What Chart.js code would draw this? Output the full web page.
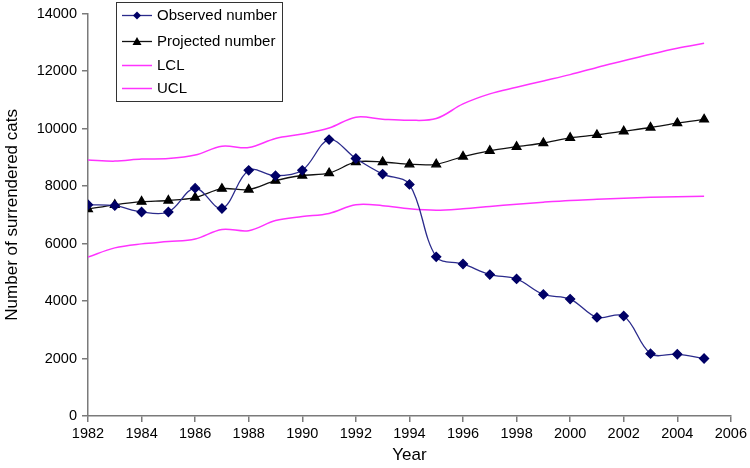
<!DOCTYPE html>
<html>
<head>
<meta charset="utf-8">
<script src="https://cdn.jsdelivr.net/npm/chart.js@4/dist/chart.umd.min.js"></script>
<style>
  html, body { margin: 0; padding: 0; background: #fff; }
  #wrap { width: 750px; height: 468px; }
</style>
</head>
<body>
<div id="wrap"><canvas id="myChart" width="750" height="468"></canvas></div>
<script>
var years = [1982, 1983, 1984, 1985, 1986, 1987, 1988, 1989, 1990, 1991, 1992, 1993,
             1994, 1995, 1996, 1997, 1998, 1999, 2000, 2001, 2002, 2003, 2004, 2005];
var observed = [7350, 7320, 7100, 7100, 7930, 7220, 8550, 8360, 8550, 9620, 8960, 8420,
                8060, 5540, 5290, 4920, 4770, 4230, 4070, 3430, 3480, 2170, 2150, 2000];
var projected = [7200, 7350, 7460, 7500, 7600, 7910, 7880, 8190, 8370, 8450, 8840, 8840,
                 8760, 8760, 9030, 9230, 9370, 9500, 9680, 9780, 9910, 10040, 10190, 10320];
var lcl = [5530, 5850, 5990, 6070, 6160, 6490, 6450, 6800, 6940, 7050, 7350, 7320,
           7210, 7160, 7210, 7290, 7370, 7440, 7500, 7540, 7580, 7610, 7630, 7650];
var ucl = [8910, 8870, 8940, 8960, 9080, 9390, 9340, 9660, 9810, 10020, 10400, 10330,
           10290, 10350, 10860, 11210, 11440, 11660, 11880, 12130, 12360, 12590, 12800, 12970];
var seriesNames = ["Observed number", "Projected number", "LCL", "UCL"];
var xTicks = [1982, 1984, 1986, 1988, 1990, 1992, 1994, 1996, 1998, 2000, 2002, 2004, 2006];
var yTicks = [0, 2000, 4000, 6000, 8000, 10000, 12000, 14000];

function pts(values) {
    return values.map(function (v, i) { return { x: years[i], y: v }; });
}

var FONT = "'Liberation Sans', Arial, sans-serif";
var AXIS = '#7a7a7a';

// legend box drawn inside the plot, like the original
var boxLegend = {
    id: 'boxLegend',
    afterDraw: function (chart) {
        var c = chart.ctx;
        var x0 = 116, y0 = 2, w = 166, h = 99;
        c.save();
        c.fillStyle = '#fff';
        c.fillRect(x0, y0, w, h);
        c.strokeStyle = '#333';
        c.lineWidth = 1;
        c.strokeRect(x0 + 0.5, y0 + 0.5, w, h);
        c.font = '15px ' + FONT;
        c.textBaseline = 'middle';
        c.fillStyle = '#000';
        var rows = [15.5, 41.5, 65.5, 88.5];
        chart.data.datasets.forEach(function (ds, i) {
            var y = rows[i];
            c.strokeStyle = ds.borderColor;
            c.lineWidth = ds.borderWidth;
            c.beginPath();
            c.moveTo(122, y);
            c.lineTo(152, y);
            c.stroke();
            if (ds.pointStyle === 'rectRot') {
                c.fillStyle = ds.pointBackgroundColor;
                c.beginPath();
                c.moveTo(137, y - 4); c.lineTo(141, y); c.lineTo(137, y + 4); c.lineTo(133, y);
                c.closePath(); c.fill();
            } else if (ds.pointStyle === 'triangle') {
                c.fillStyle = ds.pointBackgroundColor;
                c.beginPath();
                c.moveTo(137, y - 4.5); c.lineTo(141.5, y + 3.5); c.lineTo(132.5, y + 3.5);
                c.closePath(); c.fill();
            }
            c.fillStyle = '#000';
            c.fillText(ds.label, 157, y);
        });
        c.restore();
    }
};

var chartData = {
    datasets: [{
        label: seriesNames[0],
        data: pts(observed),
        borderColor: '#2b2b8c',
        borderWidth: 1.3,
        pointStyle: 'rectRot',
        pointRadius: 4.5,
        pointBackgroundColor: '#000066',
        pointBorderColor: '#000066',
        tension: 0.35
    }, {
        label: seriesNames[1],
        data: pts(projected),
        borderColor: '#111',
        borderWidth: 1.3,
        pointStyle: 'triangle',
        pointRadius: 5,
        pointBackgroundColor: '#000',
        pointBorderColor: '#000',
        tension: 0.3
    }, {
        label: seriesNames[2],
        data: pts(lcl),
        borderColor: '#ff33ff',
        borderWidth: 1.5,
        pointRadius: 0,
        tension: 0.35
    }, {
        label: seriesNames[3],
        data: pts(ucl),
        borderColor: '#ff33ff',
        borderWidth: 1.5,
        pointRadius: 0,
        tension: 0.35
    }]
};

var ctx = document.getElementById('myChart').getContext('2d');
var myChart = new Chart(ctx, {
    type: 'line',
    data: chartData,
    plugins: [boxLegend],
    options: {
        responsive: false,
        animation: false,
        layout: { padding: { top: 11, right: 19, left: 0, bottom: 0 } },
        plugins: { legend: { display: false }, tooltip: { enabled: false } },
        scales: {
            x: {
                type: 'linear',
                min: 1982,
                max: 2006,
                afterBuildTicks: function (s) { s.ticks = xTicks.map(function (v) { return { value: v }; }); },
                afterFit: function (s) { s.height = 52; },
                ticks: {
                    color: '#000',
                    font: { family: FONT, size: 14.5 },
                    padding: 3,
                    maxRotation: 0,
                    callback: function (v) { return String(v); }
                },
                grid: { drawOnChartArea: false, color: AXIS, tickLength: 6, lineWidth: 1.5 },
                border: { color: AXIS, width: 1.5 },
                title: {
                    display: true,
                    text: 'Year',
                    color: '#000',
                    font: { family: FONT, size: 17 },
                    padding: { top: 0, bottom: 2 }
                }
            },
            y: {
                min: 0,
                max: 14000,
                afterBuildTicks: function (s) { s.ticks = yTicks.map(function (v) { return { value: v }; }); },
                afterFit: function (s) { s.width = 88; },
                ticks: {
                    color: '#000',
                    font: { family: FONT, size: 14.5 },
                    padding: 5,
                    callback: function (v) { return String(v); }
                },
                grid: { drawOnChartArea: false, color: AXIS, tickLength: 6, lineWidth: 1.5 },
                border: { color: AXIS, width: 1.5 },
                title: {
                    display: true,
                    text: 'Number of surrendered cats',
                    color: '#000',
                    font: { family: FONT, size: 17 },
                    padding: { top: 2, bottom: 0 }
                }
            }
        }
    }
});
</script>
</body>
</html>
